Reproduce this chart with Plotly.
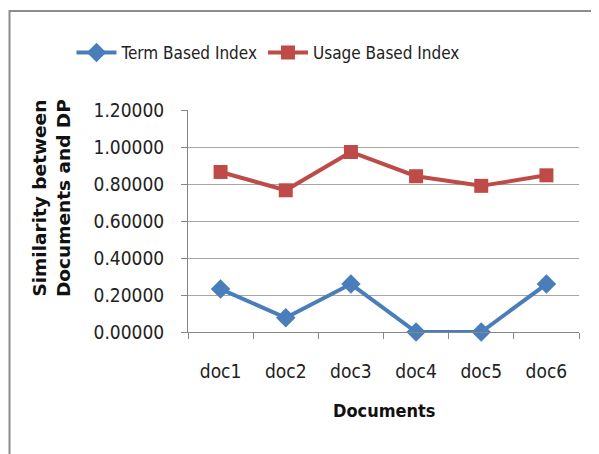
import plotly.graph_objects as go

categories = ["doc1", "doc2", "doc3", "doc4", "doc5", "doc6"]
term_based = [0.232, 0.077, 0.259, 0.0, 0.0, 0.259]
usage_based = [0.865, 0.766, 0.973, 0.842, 0.790, 0.847]
y_ticks = [0.0, 0.2, 0.4, 0.6, 0.8, 1.0, 1.2]
y_tick_labels = ["0.00000", "0.20000", "0.40000", "0.60000", "0.80000", "1.00000", "1.20000"]

FONT = "DejaVu Sans Condensed, Roboto, Arial, sans-serif"

fig = go.Figure()
fig.add_trace(go.Scatter(
    x=categories, y=term_based, name="Term Based Index", mode="lines+markers",
    line=dict(color="#4A7EBB", width=4),
    marker=dict(symbol="diamond", size=15, color="#4A7EBB"),
    cliponaxis=False,
))
fig.add_trace(go.Scatter(
    x=categories, y=usage_based, name="Usage Based Index", mode="lines+markers",
    line=dict(color="#BE4B48", width=4),
    marker=dict(symbol="square", size=14, color="#BE4B48"),
    cliponaxis=False,
))

# page offset of 8px: screen = figure + 8
fig.update_layout(
    width=599, height=454,
    margin=dict(l=180, r=28, t=102, b=130, autoexpand=False),
    paper_bgcolor="white", plot_bgcolor="white",
    font=dict(family=FONT, size=17, color="#222222"),
    showlegend=True,
    legend=dict(orientation="h", xref="container", yref="container",
                x=260 / 599, xanchor="center", y=1 - 45 / 454, yanchor="middle",
                bgcolor="rgba(0,0,0,0)",
                font=dict(family=FONT, size=17, color="#222222"),
                itemwidth=40, tracegroupgap=0),
    xaxis=dict(
        type="category", range=[-0.5, 5.5],
        showline=True, linecolor="#868686", linewidth=1,
        ticks="outside", tickson="boundaries", ticklen=6, tickcolor="#868686",
        showgrid=False, tickfont=dict(family=FONT, size=19),
        ticklabelstandoff=22,
    ),
    yaxis=dict(
        range=[0, 1.2], tickvals=y_ticks, ticktext=y_tick_labels,
        showline=True, linecolor="#868686", linewidth=1,
        ticks="outside", ticklen=6, tickcolor="#868686",
        showgrid=True, gridcolor="#A6A6A6", gridwidth=1,
        zeroline=False, tickfont=dict(family=FONT, size=19),
        ticklabelstandoff=13,
    ),
    shapes=[dict(type="rect", xref="paper", yref="paper",
                 x0=(9.5 - 188) / 391, x1=(620 - 188) / 391,
                 y0=(332 - 480) / 222, y1=(332 - 11) / 222,
                 line=dict(color="#8C8C8C", width=2), layer="below")],
    annotations=[
        dict(text="<b>Similarity between<br>Documents and DP</b>", xref="paper", yref="paper",
             x=(51 - 188) / 391, y=(332 - 198) / 222, textangle=-90, showarrow=False,
             font=dict(family="DejaVu Sans, Arial, sans-serif", size=18.5, color="#111111"),
             xanchor="center", yanchor="middle"),
        dict(text="<b>Documents</b>", xref="paper", yref="paper",
             x=(384 - 188) / 391, y=(332 - 410) / 222, showarrow=False,
             font=dict(family="DejaVu Sans Condensed, Arial, sans-serif", size=18, color="#111111"),
             xanchor="center", yanchor="middle"),
    ],
)

fig.write_html("out.html")
